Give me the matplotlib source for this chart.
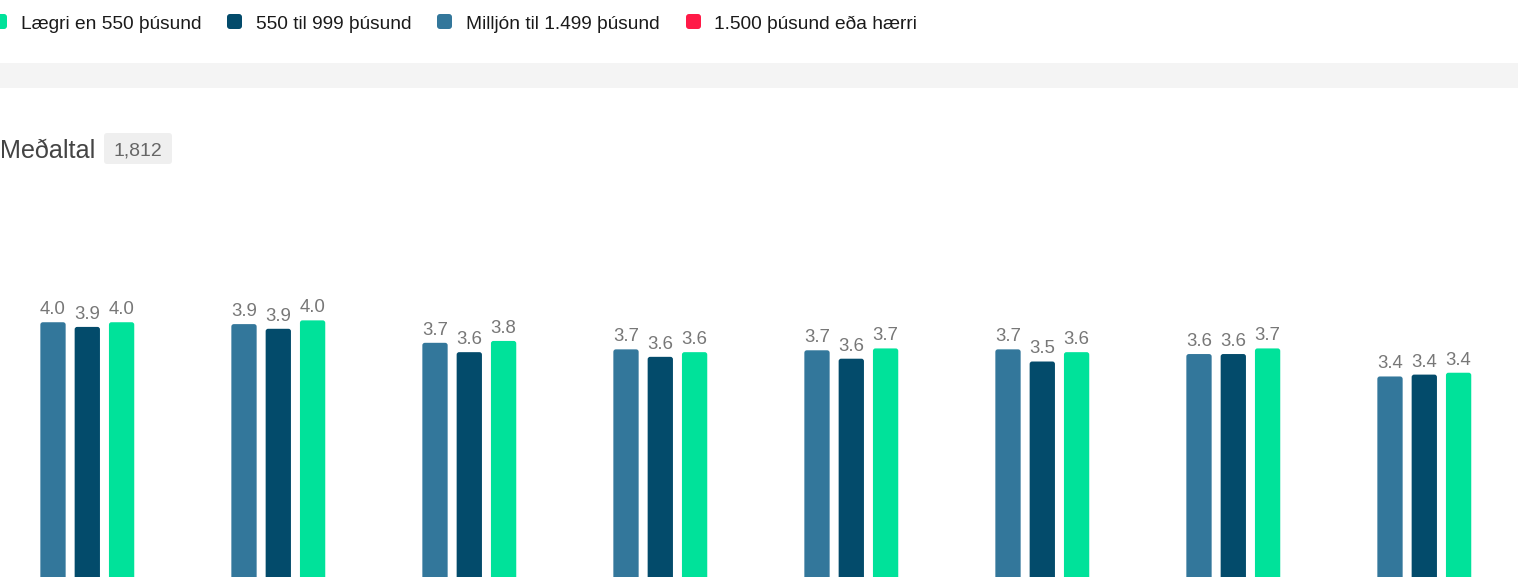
import matplotlib
matplotlib.use('Agg')
import matplotlib.pyplot as plt
import numpy as np
from matplotlib.patches import FancyBboxPatch, Rectangle

plt.rcParams['font.family'] = ['Liberation Sans', 'DejaVu Sans']

# Series (legend order) and colours
series_names = ['Lægri en 550 þúsund', '550 til 999 þúsund',
                'Milljón til 1.499 þúsund', '1.500 þúsund eða hærri']
series_colors = ['#00e29a', '#034b6b', '#33779b', '#ff1a47']

# Average score per question, one value per group
milljon = [3.96, 3.94, 3.74, 3.67, 3.66, 3.67, 3.62, 3.38]
mid_550_999 = [3.91, 3.89, 3.64, 3.59, 3.57, 3.54, 3.62, 3.40]
laegri_550 = [3.96, 3.98, 3.76, 3.64, 3.68, 3.64, 3.68, 3.42]

heading = 'Meðaltal'
respondents = '1,812'

W, H = 1518, 577
px_x = 191.0    # pixels per group
px_y = 93.5     # pixels per score unit
fig = plt.figure(figsize=(W / 100, H / 100), dpi=100)

# bar area: value 0 sits below the bottom edge, so bars run off the figure
ax = fig.add_axes([0, (H - 692.5) / H, 1, 500 / H])
ax.set_xlim(-87.3 / px_x, (W - 87.3) / px_x)
ax.set_ylim(0, 500 / px_y)
ax.axis('off')

x = np.arange(len(milljon))
width = 25.3 / px_x
step = 34.3 / px_x
for off, vals, col in zip([-step, 0, step],
                          [milljon, mid_550_999, laegri_550],
                          [series_colors[2], series_colors[1], series_colors[0]]):
    bars = ax.bar(x + off, vals, width=width, color=col, linewidth=0)
    for b, v in zip(bars, vals):
        # swap the plain rectangle for one with rounded corners
        b.set_visible(False)
        ax.add_patch(FancyBboxPatch((b.get_x(), 0), b.get_width(), v,
                                    boxstyle=f'round,pad=0,rounding_size={2.5 / px_x}',
                                    mutation_aspect=px_x / px_y,
                                    color=col, lw=0))
        ax.annotate(f'{v:.1f}', (b.get_x() + b.get_width() / 2, v),
                    xytext=(0, 5.8), textcoords='offset points',
                    ha='center', va='baseline', fontsize=13.4, color='#777777')

# overlay in pixel coordinates for legend and header
ov = fig.add_axes([0, 0, 1, 1])
ov.set_xlim(0, W)
ov.set_ylim(H, 0)
ov.axis('off')

ov.add_patch(Rectangle((0, 63), W, 25, color='#f4f4f4', lw=0))

sq_x = [-8, 227, 437, 686]
txt_x = [21, 256, 466, 714]
for name, col, sx, tx in zip(series_names, series_colors, sq_x, txt_x):
    ov.add_patch(FancyBboxPatch((sx, 14), 15, 15,
                                boxstyle='round,pad=0,rounding_size=3',
                                color=col, lw=0))
    ov.text(tx, 29.3, name, fontsize=13.75, color='#1a1a1a', va='baseline')

ov.text(0, 157.7, heading, fontsize=18.1, color='#444444', va='baseline')
ov.add_patch(FancyBboxPatch((104, 133), 68, 31,
                            boxstyle='round,pad=0,rounding_size=3',
                            color='#efefef', lw=0))
ov.text(138, 155.7, respondents, fontsize=14, color='#666666',
        ha='center', va='baseline')

fig.savefig('out.png', dpi=100)
